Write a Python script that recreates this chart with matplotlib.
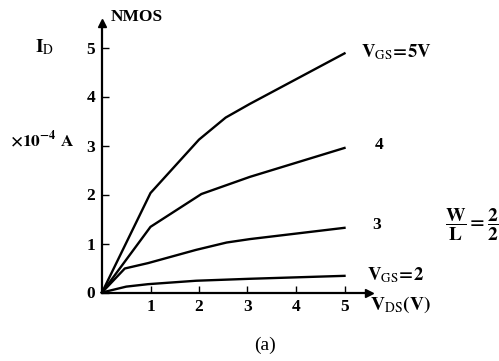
import matplotlib
matplotlib.use("Agg")
import matplotlib.pyplot as plt

plt.rcParams['font.family'] = ['Liberation Serif', 'DejaVu Serif']
plt.rcParams['mathtext.fontset'] = 'stix'

# Data (V_DS in V, I_D in 1e-4 A)
vds_5 = [0, 1.0, 2.0, 2.55, 3.05, 5.0]
id_5 = [0, 2.03, 3.12, 3.57, 3.85, 4.88]
vds_4 = [0, 1.0, 2.05, 3.05, 5.0]
id_4 = [0, 1.34, 2.01, 2.36, 2.95]
vds_3 = [0, 0.47, 0.95, 1.94, 2.57, 3.05, 5.0]
id_3 = [0, 0.49, 0.60, 0.87, 1.02, 1.09, 1.32]
vds_2 = [0, 0.5, 0.95, 1.94, 3.05, 5.0]
id_2 = [0, 0.12, 0.17, 0.24, 0.28, 0.34]
xticks = [1, 2, 3, 4, 5]
yticks = [0, 1, 2, 3, 4, 5]

W, H = 499, 361
fig = plt.figure(figsize=(W / 100, H / 100), dpi=100)
ox, oy, ux, uy = 102, 292.5, 48.5, 49.0
xmax, ymax = 5.5, 5.5
ax = fig.add_axes([ox / W, (H - oy) / H, ux * xmax / W, uy * ymax / H])
ax.set_xlim(0, xmax)
ax.set_ylim(0, ymax)
for s in ['top', 'right']:
    ax.spines[s].set_visible(False)
for s in ['left', 'bottom']:
    ax.spines[s].set_linewidth(1.6)
ax.plot(1, 0, '>k', transform=ax.get_yaxis_transform(), clip_on=False, ms=6)
ax.plot(0, 1, '^k', transform=ax.get_xaxis_transform(), clip_on=False, ms=6)

lw = 1.7
for xs, ys in [(vds_5, id_5), (vds_4, id_4), (vds_3, id_3), (vds_2, id_2)]:
    ax.plot(xs, ys, color='black', lw=lw, solid_joinstyle='round', clip_on=False)

ax.set_xticks(xticks)
ax.set_yticks(yticks)
ax.tick_params(direction='in', length=5, width=1, labelsize=12.5, pad=5)
for t in ax.get_xticklabels() + ax.get_yticklabels():
    t.set_fontweight('bold')

tk = dict(color='black', fontweight='bold')
ax.text(0.72, 5.62, 'NMOS', ha='center', va='center', fontsize=12.5, clip_on=False, **tk)
ax.text(-1.18, 5.01, r'$\mathbf{I}_{\rm D}$', ha='center', va='center', fontsize=14, clip_on=False)
ax.text(-1.24, 3.11, r'$\mathbf{\times 10^{-4}\ A}$', ha='center', va='center', fontsize=12.5, clip_on=False)
ax.text(5.34, 4.91, r'$\mathbf{V}_{\rm GS}\!\mathbf{=}\!\mathbf{5V}$', ha='left', va='center', fontsize=13.5, clip_on=False)
ax.text(5.71, 3.01, '4', ha='center', va='center', fontsize=12.5, clip_on=False, **tk)
ax.text(5.67, 1.38, '3', ha='center', va='center', fontsize=12.5, clip_on=False, **tk)
ax.text(7.07, 1.38, r'$\mathbf{\dfrac{W}{L}=\dfrac{2}{2}}$', ha='left', va='center', fontsize=14, clip_on=False)
ax.text(5.46, 0.36, r'$\mathbf{V}_{\rm GS}\!\mathbf{=}\!\mathbf{2}$', ha='left', va='center', fontsize=13.5, clip_on=False)
ax.text(5.52, -0.26, r'$\mathbf{V}_{\rm DS}\mathbf{(V)}$', ha='left', va='center', fontsize=14, clip_on=False)
ax.text(3.36, -1.07, '(a)', ha='center', va='center', fontsize=14, clip_on=False, color='black')

fig.savefig('out.png', dpi=100)
